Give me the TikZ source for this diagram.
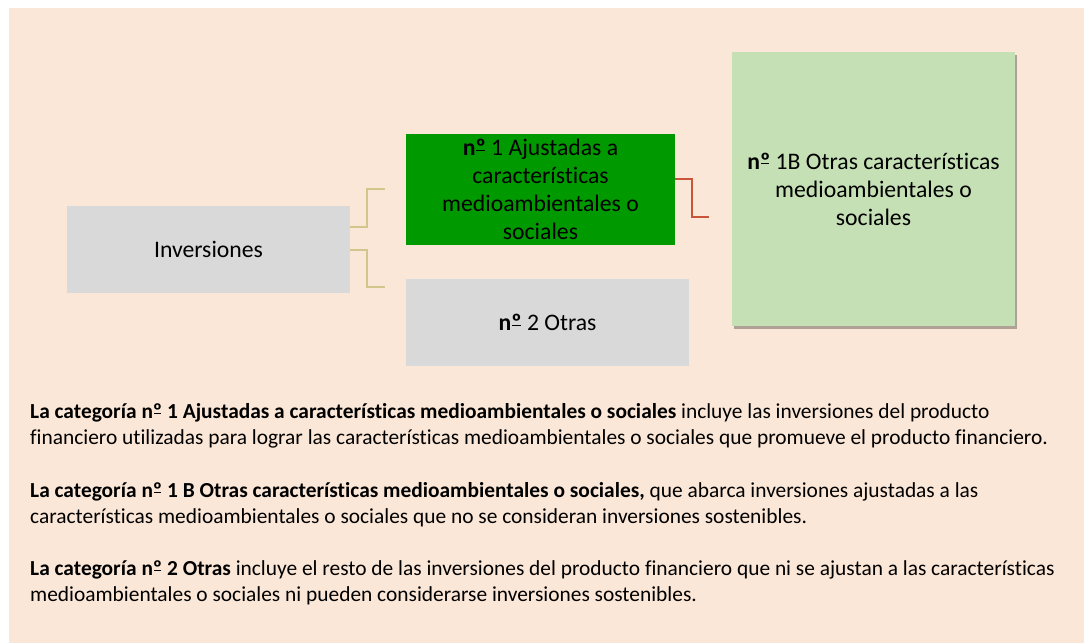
\documentclass[tikz,border=0pt]{standalone}
\usepackage{fontspec}
\setmainfont{Carlito}[Ligatures={NoCommon,NoRequired,NoContextual}]
\usetikzlibrary{shadows}
\definecolor{peach}{HTML}{FBE7D7}
\definecolor{boxgray}{HTML}{D9D9D9}
\definecolor{darkgreen}{HTML}{009900}
\definecolor{lightgreen}{HTML}{C5E0B4}
\definecolor{tanline}{HTML}{D3C58C}
\definecolor{redline}{HTML}{C9553B}
\newsavebox{\ordmbox}
\newcommand{\myordm}{\sbox{\ordmbox}{º}\rlap{\kern0.04em\rule[0.2em]{\dimexpr\wd\ordmbox-0.08em\relax}{0.05em}}\usebox{\ordmbox}}
\begin{document}
\begin{tikzpicture}[x=1pt,y=-1pt,
  boxnode/.style={inner sep=0pt, align=center, font=\fontsize{23.7}{28}\selectfont},
  bodyline/.style={inner sep=0pt, anchor=base west, font=\fontsize{21.4}{26.3}\selectfont},
  tanconn/.style={draw=tanline, line width=1.6pt},
  redconn/.style={draw=redline, line width=1.6pt}]
\useasboundingbox (0,0) rectangle (1089,643);
\fill[white] (0,0) rectangle (1089,643);
\fill[peach] (9,8) rectangle (1084,643);

% boxes
\node[boxnode, fill=boxgray, minimum width=283pt, minimum height=87pt] (inv) at (208.5,249.5) {Inversiones};
\node[boxnode, fill=darkgreen, minimum width=269pt, minimum height=111pt] (n1) at (540.5,189.5)
  {\textbf{n\myordm} 1 Ajustadas a\\características\\medioambientales o\\sociales};
\node[boxnode, fill=boxgray, minimum width=283pt, minimum height=87pt] (n2) at (547.5,322.5) {\textbf{n\myordm} 2 Otras};
\node[boxnode, fill=lightgreen, minimum width=283pt, minimum height=274pt,
  drop shadow={shadow xshift=1.5pt, shadow yshift=-3pt, fill=black, opacity=0.3}] (b1) at (873.5,189)
  {\textbf{n\myordm} 1B Otras características\\medioambientales o\\sociales};

% connector ends
\coordinate (c1) at (385,189);
\coordinate (c2) at (385,287);
\coordinate (c3) at (709,217);

\draw[tanconn] ([yshift=22.5pt]inv.east) -- ++(17,0) |- (c1);
\draw[tanconn] ([yshift=-0.5pt]inv.east) -- ++(17,0) |- (c2);
\draw[redconn] ([yshift=10.5pt]n1.east) -- ++(17,0) |- (c3);

% body text
\node[bodyline] (p1a) at (30,418) {\textbf{La categoría n\myordm\ 1 Ajustadas a características medioambientales o sociales} incluye las inversiones del producto};
\node[bodyline] (p1b) at (30,444.3) {financiero utilizadas para lograr las características medioambientales o sociales que promueve el producto financiero.};
\node[bodyline] (p2a) at (30,497) {\textbf{La categoría n\myordm\ 1 B Otras características medioambientales o sociales,} que abarca inversiones ajustadas a las};
\node[bodyline] (p2b) at (30,523) {características medioambientales o sociales que no se consideran inversiones sostenibles.};
\node[bodyline] (p3a) at (30,575.5) {\textbf{La categoría n\myordm\ 2 Otras} incluye el resto de las inversiones del producto financiero que ni se ajustan a las características};
\node[bodyline] (p3b) at (30,601.5) {medioambientales o sociales ni pueden considerarse inversiones sostenibles.};
\end{tikzpicture}
\end{document}
